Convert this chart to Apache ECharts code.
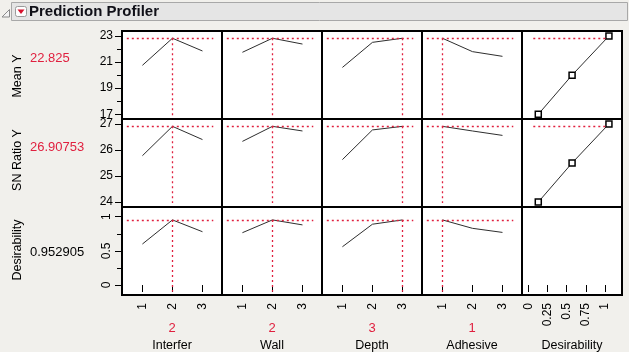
<!DOCTYPE html>
<html>
<head>
<meta charset="utf-8">
<title>Prediction Profiler</title>
<script src="https://cdn.jsdelivr.net/npm/echarts@6/dist/echarts.min.js"></script>
<style>
html, body { margin: 0; padding: 0; background: #f1f0ec; }
#profiler { width: 629px; height: 352px; }
</style>
</head>
<body>
<div id="profiler"></div>
<script>
// factors and their current settings
var factors = ['Interfer', 'Wall', 'Depth', 'Adhesive'];
var factorSettings = [2, 2, 3, 1];
var levels = [1, 2, 3];

// responses and their predicted value at the current settings
var responses = ['Mean Y', 'SN Ratio Y', 'Desirability'];
var responseLabels = ['22.825', '26.90753', '0.952905'];
var responseValues = [22.825, 26.90753, 0.952905];

// profile traces, one row per factor (values at levels 1,2,3)
var meanY = [[20.75, 22.825, 21.85], [21.75, 22.825, 22.38], [20.59, 22.51, 22.825], [22.825, 21.8, 21.44]];
var snRatioY = [[25.78, 26.90753, 26.40], [26.33, 26.90753, 26.73], [25.63, 26.77, 26.90753], [26.90753, 26.73, 26.56]];
var desirability = [[0.60, 0.952905, 0.78], [0.766, 0.952905, 0.88], [0.56, 0.89, 0.952905], [0.952905, 0.83, 0.77]];

// desirability functions (last column)
var desirFnX = [0.13, 0.57, 1.05];
var meanYDesirFn = [17, 20, 23];
var snRatioDesirFn = [24, 25.5, 27];

// tick labels
var meanYTicks = [17, 19, 21, 23];
var meanYMinor = [18, 20, 22];
var snRatioTicks = [24, 25, 26, 27];
var desirTicks = [0, 0.5, 1];
var desirMinor = [0.25, 0.75];
var desirAxisTicks = [0, 0.25, 0.5, 0.75, 1];

var profiles = [meanY, snRatioY, desirability];
var desirFns = [meanYDesirFn, snRatioDesirFn, null];
var yTicks = [meanYTicks, snRatioTicks, desirTicks];
var yMinor = [meanYMinor, null, desirMinor];
var yRange = [[16.64, 23.38], [23.81, 27.19], [-0.146, 1.142]];
var yDrop = [16.92, 23.96, -0.098];

var RED = '#e0203f';
var FONT = 'Liberation Sans, Arial, sans-serif';

var myChart = echarts.init(document.getElementById('profiler'));

var grids = [], xAxes = [], yAxes = [], series = [];

for (var r = 0; r < 3; r++) {
    for (var c = 0; c < 5; c++) {
        var g = r * 5 + c;
        var isDesir = c === 4;
        grids.push({
            left: 122 + 100 * c, top: 31 + 88 * r, width: 100, height: 88,
            show: true, backgroundColor: '#fff', borderColor: '#000', borderWidth: 2,
            outerBoundsMode: 'none'
        });

        var xt = isDesir ? desirAxisTicks : levels;
        xAxes.push({
            gridIndex: g, type: 'value',
            min: isDesir ? -0.082 : 0.32, max: isDesir ? 1.22 : 3.65,
            show: r === 2,
            axisLine: { show: false },
            splitLine: { show: false },
            axisTick: { show: true, length: 7, customValues: xt, lineStyle: { color: '#000' } },
            axisLabel: { customValues: xt, rotate: 90, margin: 8, fontSize: 12, color: '#000', fontFamily: FONT },
            name: isDesir ? '{v| }\n{n|Desirability}' : '{v|' + factorSettings[c] + '}\n{n|' + factors[c] + '}',
            nameLocation: 'middle', nameGap: 25, nameMoveOverlap: false,
            nameTextStyle: {
                rich: {
                    v: { color: RED, fontSize: 13, lineHeight: 17, fontFamily: FONT, align: 'center' },
                    n: { color: '#000', fontSize: 12.5, lineHeight: 17, fontFamily: FONT, align: 'center' }
                }
            }
        });

        yAxes.push({
            gridIndex: g, type: 'value', position: 'left',
            min: yRange[r][0], max: yRange[r][1],
            show: c === 0,
            axisLine: { show: false },
            splitLine: { show: false },
            axisTick: { show: true, length: 7, customValues: yTicks[r], lineStyle: { color: '#000' } },
            axisLabel: { customValues: yTicks[r], margin: 9, rotate: r === 2 ? 90 : 0, fontSize: 12, color: '#000', fontFamily: FONT }
        });

        var cy = responseValues[r];
        if (!isDesir) {
            series.push({
                type: 'line', xAxisIndex: g, yAxisIndex: g, silent: true, animation: false,
                symbol: 'none',
                lineStyle: { color: '#2e2e2e', width: 1 },
                data: levels.map(function (x, i) { return [x, profiles[r][c][i]]; }),
                markLine: {
                    silent: true, symbol: 'none', animation: false, label: { show: false },
                    lineStyle: { color: RED, type: [2, 3], width: 1.3 },
                    data: [
                        [{ coord: [0.48, cy] }, { coord: [3.36, cy] }],
                        [{ coord: [factorSettings[c], cy] }, { coord: [factorSettings[c], yDrop[r]] }]
                    ]
                }
            });
        } else if (desirFns[r]) {
            series.push({
                type: 'line', xAxisIndex: g, yAxisIndex: g, silent: true, animation: false,
                symbol: 'rect', symbolSize: 6,
                itemStyle: { color: '#fff', borderColor: '#000', borderWidth: 1.5 },
                lineStyle: { color: '#2e2e2e', width: 1 },
                data: desirFnX.map(function (x, i) { return [x, desirFns[r][i]]; }),
                markLine: {
                    silent: true, symbol: 'none', animation: false, label: { show: false },
                    lineStyle: { color: RED, type: [2, 3], width: 1.3 },
                    data: [[{ coord: [0.065, cy] }, { coord: [1.026, cy] }]]
                }
            });
        }
    }
}

// minor ticks on the left axes
[0, 2].forEach(function (r) {
    yAxes.push({
        gridIndex: r * 5, type: 'value', position: 'left',
        min: yRange[r][0], max: yRange[r][1],
        axisLine: { show: false }, splitLine: { show: false },
        axisTick: { show: true, length: 5, customValues: yMinor[r], lineStyle: { color: '#000' } },
        axisLabel: { show: false }
    });
});

var graphics = [
    { type: 'rect', shape: { x: 11.5, y: 2.5, width: 616, height: 18 }, style: { fill: '#e5e5e5', stroke: '#a8a8a8', lineWidth: 1 } },
    { type: 'polygon', shape: { points: [[2, 17], [9.5, 17], [9.5, 9.5]] }, style: { fill: '#f4f4f4', stroke: '#8a8a8a', lineWidth: 1 } },
    { type: 'rect', shape: { x: 15.5, y: 6.5, width: 11, height: 10, r: 2 }, style: { fill: '#fdfdfd', stroke: '#9a9a9a', lineWidth: 1 } },
    { type: 'polygon', shape: { points: [[17.5, 9.5], [24.5, 9.5], [21, 14]] }, style: { fill: '#d8102c' } },
    { type: 'text', x: 29, y: 12, style: { text: 'Prediction Profiler', fill: '#101018', font: 'bold 15px ' + FONT, align: 'left', verticalAlign: 'middle' } }
];
var nameY = [76, 160, 250];
var valueY = [58, 147, 252];
responses.forEach(function (name, r) {
    graphics.push({ type: 'text', x: 18, y: nameY[r], rotation: Math.PI / 2,
        style: { text: name, fill: '#000', font: '12.5px ' + FONT, align: 'center', verticalAlign: 'middle' } });
    graphics.push({ type: 'text', x: 30, y: valueY[r],
        style: { text: responseLabels[r], fill: r < 2 ? RED : '#000', font: '13px ' + FONT, align: 'left', verticalAlign: 'middle' } });
});

var option = {
    backgroundColor: '#f1f0ec',
    animation: false,
    textStyle: { fontFamily: FONT },
    grid: grids,
    xAxis: xAxes,
    yAxis: yAxes,
    series: series,
    graphic: graphics
};
myChart.setOption(option);
</script>
</body>
</html>
